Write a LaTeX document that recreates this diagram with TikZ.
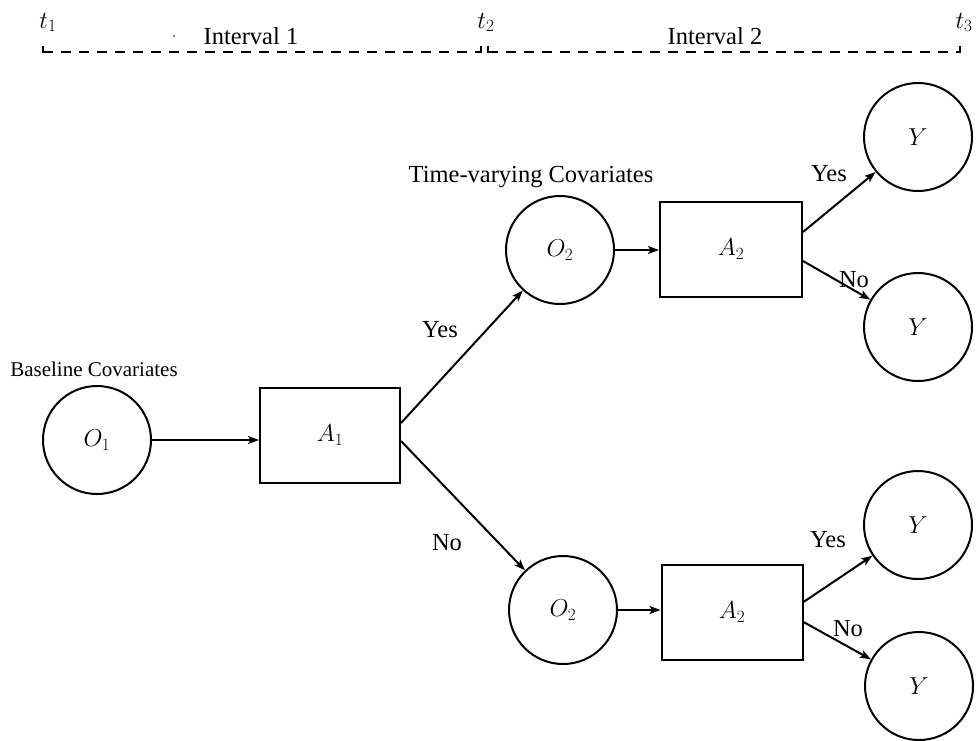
\RequirePackage{fix-cm}
\documentclass[tikz,border=0pt]{standalone}
\usepackage[no-math]{fontspec}
\setmainfont{Liberation Serif}
\usetikzlibrary{arrows.meta}
\begin{document}
\begin{tikzpicture}[x=1pt,y=-1pt,
  every node/.style={font=\fontsize{24.5}{29}\selectfont},
  circ/.style={draw, circle, line width=2pt, minimum size=108pt, inner sep=0pt},
  box/.style={draw, rectangle, line width=2pt, minimum width=140pt, minimum height=95pt, inner sep=0pt},
  arr/.style={-{Stealth[length=11pt,width=8pt,inset=2.5pt]}, line width=2pt},
  lbl/.style={inner sep=0pt},
  bracket/.style={line width=2pt, dash pattern=on 10pt off 8pt},
  tick/.style={line width=2pt}
]
\useasboundingbox (0,0) rectangle (976,740);

% time axis
\node[lbl, anchor=base] (t1) at (48,28) {$t_1$};
\node[lbl, anchor=base] (t2) at (486,28) {$t_2$};
\node[lbl, anchor=base] (t3) at (964,28) {$t_3$};
\node[lbl, anchor=base] (int1) at (251,44) {Interval 1};
\node[lbl, anchor=base] (int2) at (715,44) {Interval 2};
\fill (174,36) circle (0.9pt);
\coordinate (b1s) at (43,52);
\coordinate (b1e) at (481,52);
\coordinate (b2s) at (488,52);
\coordinate (b2e) at (960,52);
\draw[bracket] (b1s) -- (b1e);
\draw[bracket] (b2s) -- (b2e);
\draw[tick] ([yshift=6pt]b1s) -- ([yshift=-1pt]b1s);
\draw[tick] ([yshift=6pt]b1e) -- ([yshift=-1pt]b1e);
\draw[tick] ([yshift=6pt]b2s) -- ([yshift=-1pt]b2s);
\draw[tick] ([yshift=6pt]b2e) -- ([yshift=-1pt]b2e);

% nodes
\node[circ] (O1) at (97,440) {$O_1$};
\node[box] (A1) at (330,435) {$A_1$};
\node[circ] (O2a) at (560,250) {$O_2$};
\node[box, minimum width=142pt] (A2a) at (731,249) {$A_2$};
\node[circ] (O2b) at (563,610) {$O_2$};
\node[box, minimum width=141pt] (A2b) at (732,612) {$A_2$};
\node[circ] (Ya) at (918,137) {$Y$};
\node[circ] (Yb) at (918,327) {$Y$};
\node[circ] (Yc) at (918,525) {$Y$};
\node[circ] (Yd) at (919,686) {$Y$};

\node[lbl, anchor=base, font=\fontsize{21}{25}\selectfont] (base) at (94,376) {Baseline Covariates};
\node[lbl, anchor=base] (tv) at (531,182) {Time-varying Covariates};

% connectors
\draw[arr] (O1.east) -- (O1.east -| A1.west);
\draw[arr] ([yshift=12pt]A1.east) -- (O2a);
\draw[arr] ([yshift=-6pt]A1.east) -- (O2b);
\draw[arr] (O2a.east) -- (O2a.east -| A2a.west);
\draw[arr] (O2b.east) -- (O2b.east -| A2b.west);
\draw[arr] ([yshift=17pt]A2a.east) -- (Ya);
\draw[arr] ([yshift=-12pt]A2a.east) -- (Yb);
\draw[arr] ([yshift=10pt]A2b.east) -- (Yc);
\draw[arr] ([yshift=-10pt]A2b.east) -- (Yd);

% labels
\node[lbl] (l1) at (440,330) {Yes};
\node[lbl] (l2) at (447,543) {No};
\node[lbl] (l3) at (829,174) {Yes};
\node[lbl] (l4) at (854,280) {No};
\node[lbl] (l5) at (828,540) {Yes};
\node[lbl] (l6) at (848,629) {No};
\end{tikzpicture}
\end{document}
